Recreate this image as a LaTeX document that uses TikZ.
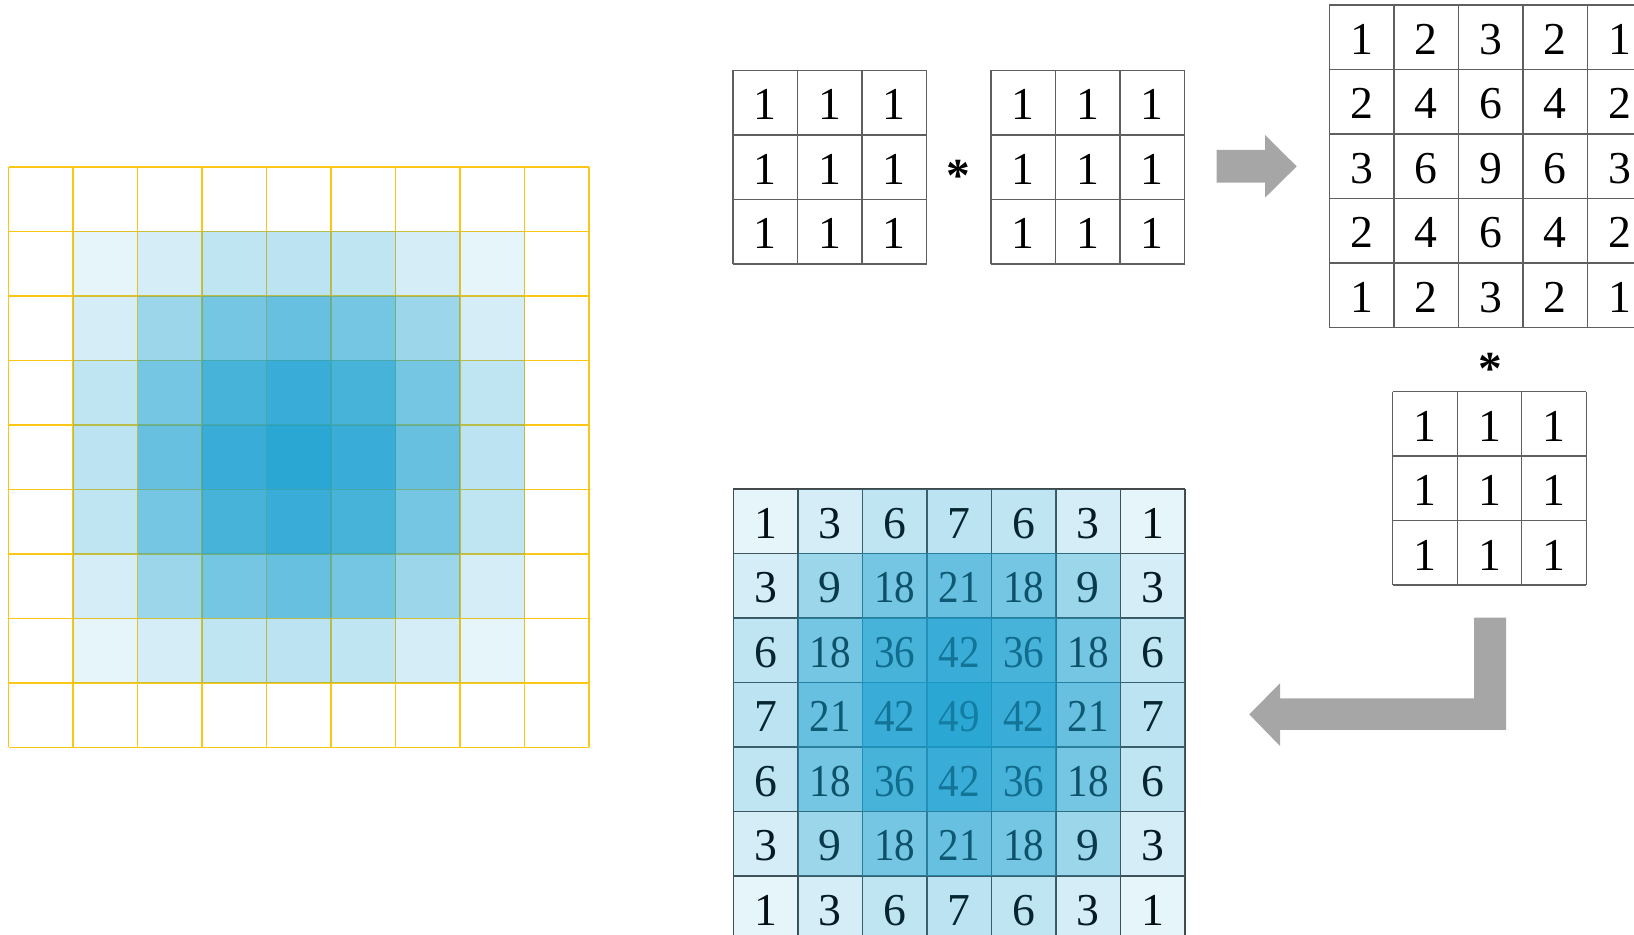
\documentclass[tikz,border=0pt]{standalone}
\usepackage{fontspec}
\usepackage{graphicx}
\setmainfont{Liberation Serif}
\definecolor{cellblue}{RGB}{25,160,208}
\definecolor{gridyellow}{RGB}{250,200,20}
\definecolor{linegray}{RGB}{95,95,95}
\definecolor{darkline}{RGB}{70,70,70}
\definecolor{arrowgray}{RGB}{166,166,166}
\expandafter\def\csname op1\endcsname{0.11}
\expandafter\def\csname op3\endcsname{0.19}
\expandafter\def\csname op6\endcsname{0.28}
\expandafter\def\csname op7\endcsname{0.29}
\expandafter\def\csname op9\endcsname{0.43}
\expandafter\def\csname op18\endcsname{0.60}
\expandafter\def\csname op21\endcsname{0.66}
\expandafter\def\csname op36\endcsname{0.80}
\expandafter\def\csname op42\endcsname{0.86}
\expandafter\def\csname op49\endcsname{0.92}
\def\fone{{1,1,1}}
\def\ftwo{{1,2,3,2,1}}
\def\fthree{{1,3,6,7,6,3,1}}
\newcommand\cs{64.5}
% plain number matrix: name, x0, y0, n, array
\newcommand\drawmat[5]{%
  \pgfmathtruncatemacro\nn{#4-1}%
  \foreach \r in {0,...,\nn} {\foreach \c in {0,...,\nn} {%
    \pgfmathtruncatemacro\v{#5[\r]*#5[\c]}%
    \node[num] (#1-\r-\c) at ({#2+\cs*(\c+0.5)},{#3+\cs*(\r+0.5)+2}) {\v};
  }}%
  \foreach \i in {0,...,#4} {%
    \draw[mline] ({#2+\cs*\i},#3) -- ++(0,{\cs*#4});
    \draw[mline] (#2,{#3+\cs*\i}) -- ++({\cs*#4},0);
  }%
}
\begin{document}
\begin{tikzpicture}[x=0.02cm,y=-0.02cm,
  num/.style={font=\fontsize{26}{26}\selectfont, inner sep=0pt, anchor=center},
  opstar/.style={font=\fontsize{27}{27}\selectfont\bfseries, inner sep=0pt, anchor=north},
  mline/.style={draw=linegray, line width=0.8pt},
  yline/.style={draw=gridyellow, line width=0.7pt},
  blockarrow/.style={fill=arrowgray, draw=none}]
\useasboundingbox (0,0) rectangle (1634,935);

% ---------- left heat grid ----------
\foreach \i in {0,...,9} {
  \draw[yline] ({8.5+\cs*\i},167) -- ++(0,{\cs*9});
  \draw[yline] (8.5,{167+\cs*\i}) -- ++({\cs*9},0);
}
\foreach \r in {0,...,6} {\foreach \c in {0,...,6} {
  \pgfmathtruncatemacro\v{\fthree[\r]*\fthree[\c]}
  \edef\a{\csname op\v\endcsname}
  \fill[cellblue, fill opacity=\a] ({8.5+\cs*(\c+1)},{167+\cs*(\r+1)}) rectangle ++(\cs,\cs);
}}

% ---------- top kernels ----------
\drawmat{ka}{733}{70.5}{3}{\fone}
\node[opstar] (s1) at (958.3,160) {*};
\drawmat{kb}{991}{70.5}{3}{\fone}

% right block arrow
\fill[blockarrow] (1216.7,150) -- (1265,150) -- (1265,135) -- (1296.7,166.4)
  -- (1265,197.7) -- (1265,182.7) -- (1216.7,182.7) -- cycle;

% 5x5 result
\drawmat{kc}{1329.3}{5}{5}{\ftwo}

% second star and kernel
\node[opstar] (s2) at (1490,353) {*};
\drawmat{kd}{1392.7}{391.7}{3}{\fone}

% L-shaped block arrow
\fill[blockarrow] (1474,617.7) -- (1506,617.7) -- (1506,730) -- (1280,730)
  -- (1280,746) -- (1249.3,714.4) -- (1280,683.3) -- (1280,698.3)
  -- (1474,698.3) -- cycle;

% ---------- 7x7 result ----------
\foreach \i in {0,...,7} {
  \draw[mline, draw=darkline] ({733.3+\cs*\i},489) -- ++(0,{\cs*7});
  \draw[mline, draw=darkline] (733.3,{489+\cs*\i}) -- ++({\cs*7},0);
}
\foreach \r in {0,...,6} {\foreach \c in {0,...,6} {
  \pgfmathtruncatemacro\v{\fthree[\r]*\fthree[\c]}
  \edef\a{\csname op\v\endcsname}
  \fill[cellblue, fill opacity=\a] ({733.3+\cs*\c},{489+\cs*\r}) rectangle ++(\cs,\cs);
}}
\foreach \r in {0,...,6} {\foreach \c in {0,...,6} {
  \pgfmathtruncatemacro\v{\fthree[\r]*\fthree[\c]}
  \edef\a{\csname op\v\endcsname}
  \pgfmathtruncatemacro\pct{85*\a}
  \node[num, text=cellblue!\pct!black] (r-\r-\c) at ({733.3+\cs*(\c+0.5)},{489+\cs*(\r+0.5)+2})
    {\ifnum\v>9 \scalebox{0.9}[1]{\v}\else\v\fi};
}}
\end{tikzpicture}
\end{document}
